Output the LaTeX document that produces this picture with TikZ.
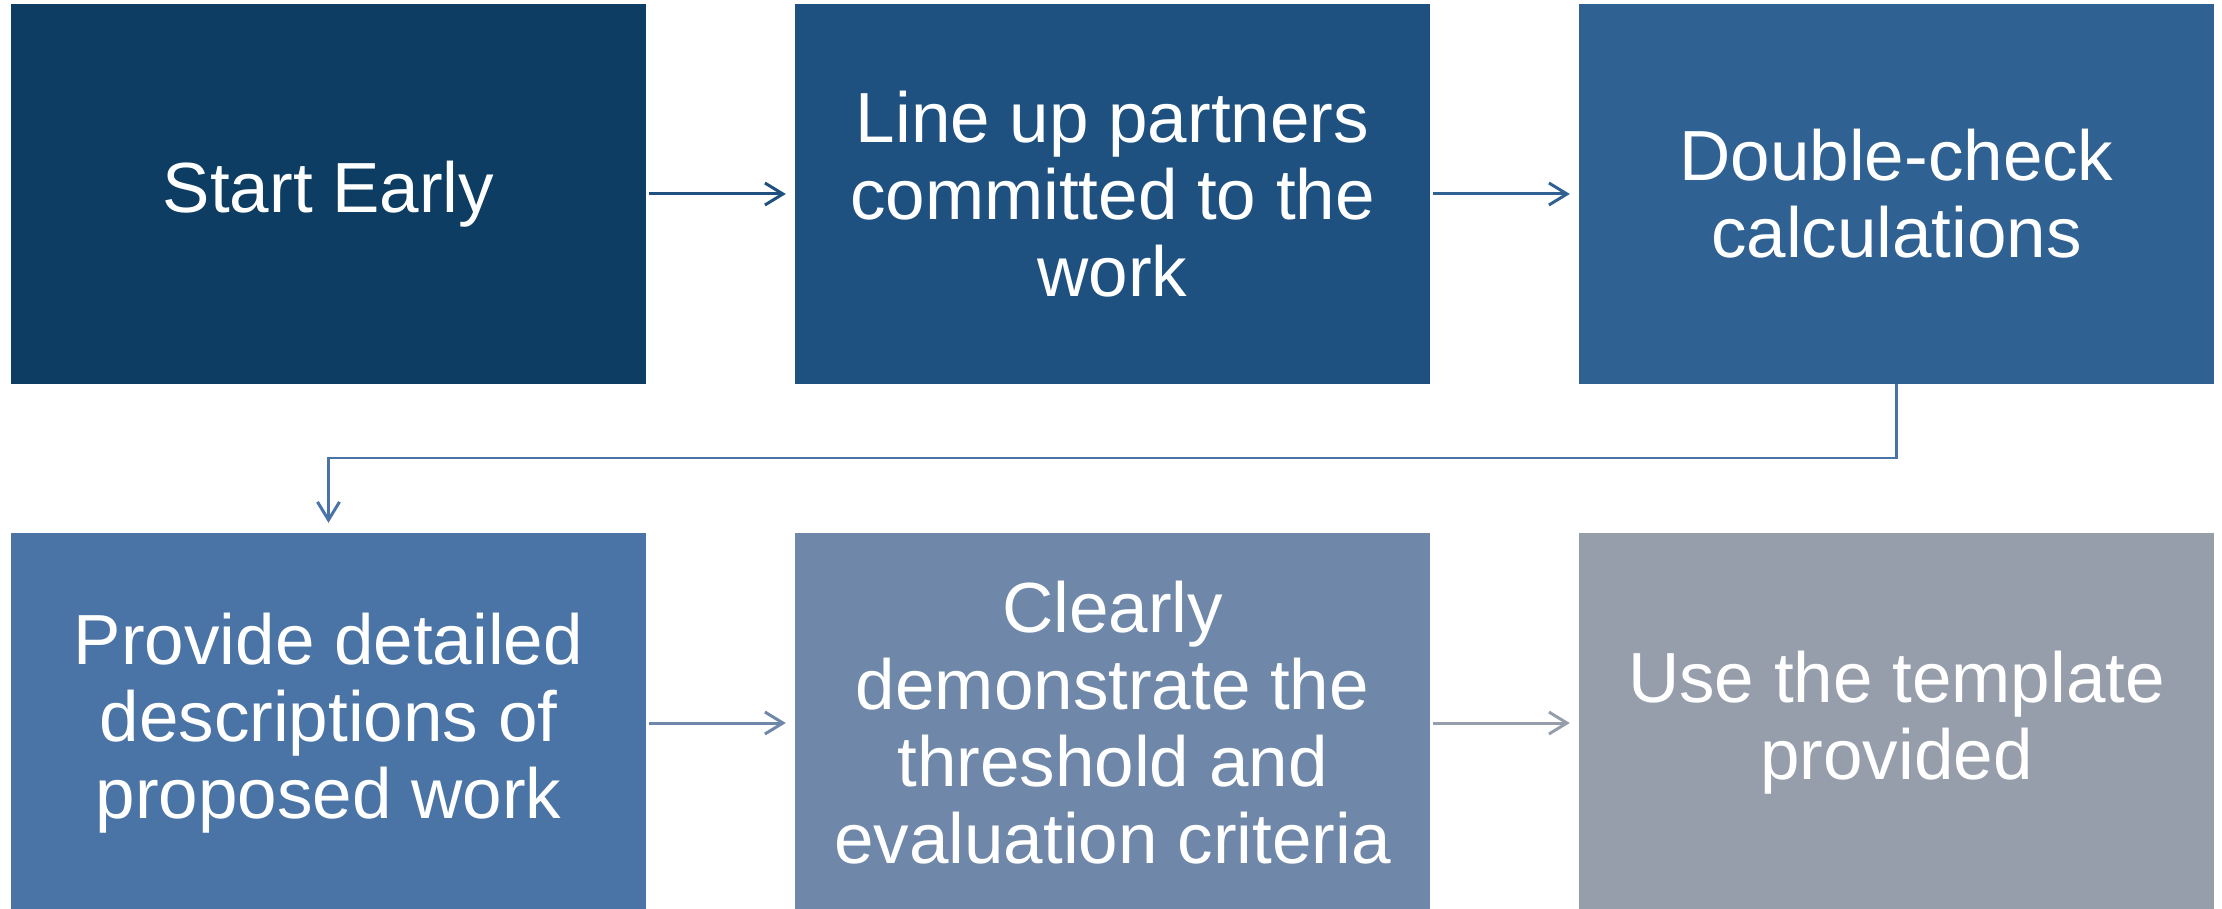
\documentclass[tikz,border=0pt]{standalone}
\usepackage{fontspec}
\setmainfont{Liberation Sans}
\usetikzlibrary{arrows.meta}
\definecolor{cA}{HTML}{0D3D62}
\definecolor{cB}{HTML}{1E5180}
\definecolor{cC}{HTML}{2F6193}
\definecolor{cD}{HTML}{4A74A6}
\definecolor{cE}{HTML}{6F88A9}
\definecolor{cF}{HTML}{979EAB}
\tikzset{
  stepbox/.style={rectangle, draw=none, inner sep=0pt, minimum width=635pt, minimum height=380pt,
    text=white, align=center, font=\fontsize{71}{77}\selectfont},
  conn/.style={line width=3pt, -{Straight Barb[length=18pt,width=22pt,line width=3pt]},
    shorten <=3pt, shorten >=9pt}
}
\begin{document}
\begin{tikzpicture}[x=1pt,y=-1pt]
\useasboundingbox (0,0) rectangle (2222,909);
\node[stepbox, fill=cA] (b1) at (328.5,194) {Start Early};
\node[stepbox, fill=cB] (b2) at (1112.5,194) {Line up partners\\committed to the\\work};
\node[stepbox, fill=cC] (b3) at (1896.5,194) {Double-check\\calculations};
\node[stepbox, fill=cD] (b4) at (328.5,723) {Provide detailed\\descriptions of\\proposed work};
\node[stepbox, fill=cE] (b5) at (1112.5,723) {Clearly\\demonstrate the\\threshold and\\evaluation criteria};
\node[stepbox, fill=cF] (b6) at (1896.5,723) {Use the template\\provided};
\draw[conn, cB] (b1.east) -- (b2.west);
\draw[conn, cC] (b2.east) -- (b3.west);
\draw[conn, cD, line width=2.5pt, shorten <=0pt, shorten >=10pt] (b3.south) -- ++(0,74) -| (b4.north);
\draw[conn, cE] (b4.east) -- (b5.west);
\draw[conn, cF] (b5.east) -- (b6.west);
\end{tikzpicture}
\end{document}
